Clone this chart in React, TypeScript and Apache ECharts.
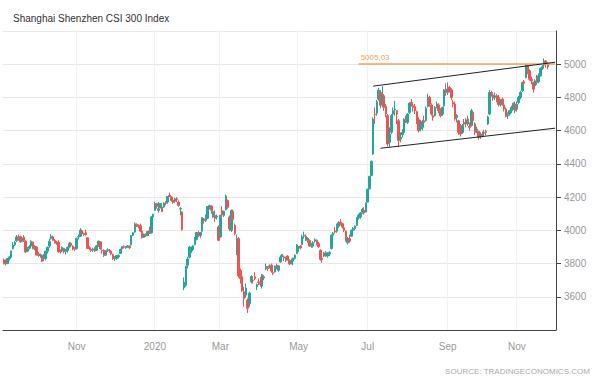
import React, { useEffect, useRef } from "react";
import * as echarts from "echarts";

// ---------- data ----------
const TITLE = "Shanghai Shenzhen CSI 300 Index";
const SOURCE = "SOURCE: TRADINGECONOMICS.COM";
const LAST_LABEL = "5005,03";
const LAST_VALUE = 5005.03;

const FIRST_DAY = "2019-08-29";
const LAST_AXIS_DAY = "2020-12-01";
const HOLIDAYS = [
  "2019-09-13", "2019-10-01", "2019-10-02", "2019-10-03", "2019-10-04", "2019-10-07",
  "2020-01-01", "2020-01-24", "2020-01-27", "2020-01-28", "2020-01-29", "2020-01-30", "2020-01-31",
  "2020-04-06", "2020-05-01", "2020-05-04", "2020-05-05", "2020-06-25", "2020-06-26",
  "2020-10-01", "2020-10-02", "2020-10-05", "2020-10-06", "2020-10-07", "2020-10-08",
];
const MONTHS = ["Jan", "Feb", "Mar", "Apr", "May", "Jun", "Jul", "Aug", "Sep", "Oct", "Nov", "Dec"];
const Y_MIN = 3400;
const Y_MAX = 5200;
const Y_STEP = 200;

// [open, close, low, high]
const aug2019 = [[3822, 3805, 3795, 3830], [3806, 3799, 3788, 3825]];
const sep2019 = [
  [3800, 3830, 3797, 3832], [3830, 3840, 3818, 3845], [3838, 3876, 3830, 3878], [3890, 3910, 3885, 3930],
  [3912, 3929, 3905, 3935], [3938, 3960, 3930, 3972], [3960, 3958, 3938, 3975], [3962, 3931, 3925, 3968],
  [3935, 3955, 3930, 3960], [3958, 3939, 3930, 3972], [3935, 3869, 3866, 3940], [3875, 3889, 3870, 3900],
  [3892, 3903, 3885, 3912], [3905, 3935, 3900, 3940], [3930, 3890, 3885, 3932], [3895, 3905, 3880, 3912],
  [3900, 3852, 3848, 3905], [3858, 3850, 3840, 3870], [3848, 3852, 3835, 3860], [3850, 3814, 3810, 3855],
];
const oct2019 = [
  [3830, 3837, 3815, 3857], [3830, 3874, 3820, 3876], [3875, 3898, 3860, 3902], [3905, 3935, 3895, 3950],
  [3950, 3964, 3945, 3978], [3960, 3939, 3935, 3968], [3940, 3927, 3920, 3948], [3930, 3923, 3912, 3935],
  [3928, 3870, 3866, 3940], [3872, 3871, 3860, 3885], [3875, 3898, 3870, 3902], [3892, 3870, 3862, 3895],
  [3872, 3880, 3855, 3888], [3878, 3898, 3865, 3902], [3900, 3920, 3895, 3930], [3922, 3910, 3900, 3928],
  [3905, 3887, 3880, 3910], [3890, 3886, 3875, 3900],
];
const nov2019 = [
  [3890, 3952, 3885, 3955], [3960, 3962, 3945, 3975], [3965, 4000, 3960, 4013], [3998, 3978, 3970, 4005],
  [3980, 3974, 3965, 3985], [3985, 3973, 3968, 4005], [3955, 3891, 3888, 3958], [3895, 3891, 3880, 3905],
  [3885, 3878, 3870, 3895], [3880, 3888, 3870, 3895], [3890, 3876, 3870, 3898], [3880, 3907, 3875, 3910],
  [3908, 3935, 3900, 3938], [3930, 3888, 3885, 3935], [3880, 3877, 3860, 3885], [3880, 3849, 3840, 3885],
  [3850, 3878, 3845, 3880], [3882, 3882, 3870, 3892], [3880, 3878, 3865, 3888], [3875, 3858, 3852, 3880],
  [3855, 3828, 3822, 3860],
];
const dec2019 = [
  [3830, 3836, 3815, 3845], [3830, 3848, 3822, 3850], [3840, 3849, 3830, 3855], [3860, 3885, 3858, 3890],
  [3888, 3902, 3880, 3905], [3902, 3898, 3890, 3910], [3895, 3900, 3888, 3905], [3902, 3906, 3895, 3912],
  [3905, 3895, 3888, 3910], [3912, 3968, 3910, 3972], [3970, 3986, 3965, 3990], [3990, 4039, 3985, 4048],
  [4035, 4027, 4020, 4042], [4025, 4025, 4012, 4035], [4028, 3995, 3990, 4040], [3995, 3956, 3950, 4000],
  [3958, 3977, 3955, 3980], [3975, 3968, 3960, 3982], [3968, 3993, 3965, 3995], [3998, 3982, 3978, 4022],
  [3985, 4081, 3980, 4085], [4080, 4097, 4075, 4100],
];
const jan2020 = [
  [4121, 4152, 4118, 4172], [4161, 4144, 4131, 4165], [4120, 4130, 4106, 4170], [4135, 4161, 4133, 4162],
  [4140, 4113, 4110, 4142], [4140, 4164, 4135, 4168], [4172, 4163, 4151, 4176], [4170, 4204, 4160, 4205],
  [4210, 4203, 4200, 4227], [4200, 4180, 4172, 4205], [4182, 4168, 4160, 4190], [4175, 4186, 4165, 4195],
  [4190, 4185, 4170, 4200], [4170, 4150, 4142, 4180], [4128, 4131, 4090, 4140], [4110, 4004, 3998, 4115],
];
const feb2020 = [
  [3653, 3688, 3640, 3716], [3669, 3784, 3660, 3786], [3790, 3828, 3770, 3840], [3838, 3899, 3830, 3905],
  [3880, 3899, 3865, 3902], [3885, 3907, 3875, 3910], [3915, 3952, 3910, 3960], [3945, 3987, 3940, 3990],
  [3985, 3967, 3958, 3998], [3970, 3987, 3955, 3990], [3995, 4077, 3990, 4078], [4070, 4058, 4040, 4075],
  [4060, 4070, 4050, 4095], [4072, 4143, 4068, 4145], [4140, 4149, 4125, 4155], [4145, 4121, 4100, 4150],
  [4080, 4112, 4075, 4118], [4090, 4073, 4050, 4120], [4080, 4085, 4065, 4095], [4020, 3940, 3935, 4030],
];
const mar2020 = [
  [3960, 4091, 3955, 4092], [4120, 4092, 4075, 4145], [4090, 4115, 4080, 4118], [4125, 4206, 4120, 4215],
  [4180, 4139, 4130, 4185], [4080, 4009, 3995, 4090], [4000, 4120, 3990, 4125], [4115, 4066, 4060, 4125],
  [4030, 3980, 3970, 4040], [3860, 3950, 3850, 3975], [3950, 3727, 3715, 3960], [3745, 3709, 3680, 3770],
  [3720, 3636, 3630, 3760], [3630, 3589, 3540, 3660], [3610, 3653, 3595, 3680], [3580, 3531, 3503, 3590],
  [3560, 3622, 3540, 3630], [3690, 3722, 3680, 3730], [3700, 3698, 3680, 3720], [3720, 3710, 3700, 3750],
  [3660, 3673, 3640, 3680], [3690, 3686, 3670, 3710],
];
const apr2020 = [
  [3680, 3675, 3660, 3720], [3665, 3734, 3650, 3736], [3720, 3713, 3700, 3730], [3770, 3783, 3760, 3800],
  [3775, 3769, 3755, 3785], [3780, 3786, 3770, 3795], [3790, 3756, 3745, 3800], [3745, 3741, 3730, 3755],
  [3750, 3785, 3745, 3788], [3790, 3773, 3765, 3800], [3760, 3786, 3750, 3790], [3810, 3839, 3805, 3850],
  [3840, 3854, 3830, 3858], [3840, 3834, 3815, 3848], [3820, 3839, 3810, 3842], [3845, 3823, 3818, 3850],
  [3820, 3797, 3790, 3825], [3805, 3816, 3795, 3830], [3815, 3833, 3790, 3835], [3830, 3850, 3825, 3855],
  [3860, 3912, 3858, 3918],
];
const may2020 = [
  [3893, 3899, 3870, 3905], [3905, 3894, 3885, 3912], [3915, 3962, 3910, 3975], [3965, 3970, 3950, 3992],
  [3965, 3948, 3935, 3975], [3940, 3952, 3925, 3958], [3940, 3905, 3900, 3945], [3910, 3915, 3895, 3925],
  [3905, 3925, 3895, 3935], [3935, 3944, 3925, 3952], [3940, 3915, 3910, 3945], [3920, 3902, 3895, 3930],
  [3880, 3825, 3818, 3885], [3830, 3825, 3805, 3835], [3845, 3864, 3840, 3870], [3865, 3851, 3840, 3875],
  [3845, 3862, 3835, 3868], [3858, 3867, 3845, 3875],
];
const jun2020 = [
  [3890, 3971, 3885, 3975], [3970, 3983, 3960, 3990], [3995, 3990, 3980, 4020], [3995, 4030, 3985, 4040],
  [4025, 4045, 4015, 4055], [4050, 4040, 4030, 4068], [4040, 4020, 4010, 4045], [4015, 4000, 3990, 4025],
  [3995, 3940, 3932, 4000], [3925, 3950, 3915, 3960], [3950, 3935, 3925, 3975], [3965, 4000, 3960, 4005],
  [4000, 4012, 3995, 4020], [4010, 4025, 4000, 4030], [4030, 4075, 4025, 4080], [4075, 4090, 4065, 4100],
  [4080, 4105, 4070, 4110], [4110, 4125, 4100, 4135], [4120, 4105, 4095, 4140], [4110, 4164, 4108, 4168],
];
const jul2020 = [
  [4170, 4248, 4168, 4250], [4250, 4325, 4245, 4328], [4330, 4416, 4325, 4420], [4460, 4670, 4455, 4680],
  [4700, 4698, 4640, 4740], [4705, 4774, 4690, 4785], [4790, 4844, 4780, 4858], [4830, 4753, 4735, 4845],
  [4760, 4815, 4740, 4868], [4810, 4740, 4720, 4820], [4745, 4700, 4680, 4760], [4690, 4520, 4505, 4700],
  [4530, 4580, 4500, 4620], [4590, 4690, 4580, 4700], [4700, 4720, 4680, 4740], [4725, 4730, 4690, 4780],
  [4720, 4700, 4640, 4725], [4660, 4540, 4500, 4670], [4550, 4560, 4530, 4590], [4575, 4590, 4560, 4610],
  [4590, 4670, 4585, 4675], [4670, 4660, 4645, 4690], [4650, 4700, 4640, 4705],
];
const aug2020 = [
  [4710, 4765, 4700, 4772], [4770, 4766, 4745, 4790], [4750, 4740, 4715, 4765], [4745, 4720, 4700, 4760],
  [4715, 4660, 4640, 4720], [4665, 4600, 4590, 4680], [4610, 4630, 4595, 4665], [4620, 4655, 4600, 4665],
  [4660, 4650, 4630, 4690], [4660, 4735, 4655, 4745], [4745, 4800, 4740, 4822], [4800, 4760, 4745, 4810],
  [4755, 4700, 4690, 4765], [4690, 4680, 4660, 4710], [4690, 4740, 4685, 4748], [4745, 4760, 4735, 4775],
  [4755, 4720, 4705, 4765], [4715, 4690, 4680, 4735], [4700, 4740, 4690, 4745], [4750, 4845, 4745, 4850],
  [4850, 4830, 4810, 4885],
];
const sep2020 = [
  [4830, 4862, 4815, 4890], [4860, 4842, 4830, 4870], [4845, 4800, 4785, 4855], [4770, 4760, 4740, 4785],
  [4760, 4670, 4660, 4775], [4680, 4692, 4650, 4700], [4660, 4590, 4575, 4665], [4610, 4580, 4565, 4640],
  [4590, 4630, 4580, 4640], [4650, 4640, 4630, 4670], [4640, 4665, 4620, 4675], [4670, 4640, 4630, 4690],
  [4625, 4620, 4600, 4650], [4630, 4720, 4625, 4730], [4710, 4660, 4650, 4715], [4640, 4590, 4575, 4650],
  [4600, 4610, 4585, 4625], [4595, 4560, 4545, 4600], [4565, 4575, 4550, 4590], [4580, 4570, 4560, 4595],
  [4585, 4590, 4570, 4605], [4595, 4590, 4570, 4605],
];
const oct2020 = [
  [4640, 4681, 4635, 4690], [4700, 4830, 4695, 4845], [4830, 4822, 4805, 4840], [4815, 4795, 4780, 4820],
  [4800, 4810, 4785, 4830], [4810, 4791, 4770, 4820], [4800, 4757, 4745, 4815], [4755, 4784, 4745, 4790],
  [4790, 4760, 4750, 4800], [4755, 4730, 4715, 4765], [4730, 4686, 4680, 4740], [4690, 4696, 4670, 4710],
  [4700, 4720, 4690, 4725], [4720, 4740, 4705, 4750], [4740, 4765, 4725, 4770], [4760, 4720, 4705, 4775],
];
const nov2020 = [
  [4730, 4760, 4715, 4775], [4770, 4800, 4760, 4810], [4800, 4830, 4790, 4840], [4840, 4890, 4835, 4895],
  [4895, 4885, 4870, 4905], [4920, 4995, 4915, 5000], [4990, 4960, 4940, 4998], [4960, 4910, 4900, 4970],
  [4910, 4900, 4880, 4925], [4890, 4850, 4830, 4895], [4870, 4900, 4860, 4910], [4905, 4890, 4875, 4935],
  [4895, 4930, 4885, 4945], [4930, 4975, 4925, 4980], [4975, 4985, 4965, 4995], [4995, 5020, 4985, 5035],
  [5020, 5005, 4980, 5025], [5005, 4985, 4970, 5012],
];

// trend channel endpoints: [categoryIndex, value]
const upperChannel = [[203, 4868], [303, 5012]];
const lowerChannel = [[207, 4494], [303, 4615]];
const lastLineStart = 195;
const lastLineEnd = 303;

function buildDates(): string[] {
  const out: string[] = [];
  const hol = new Set(HOLIDAYS);
  const d = new Date(FIRST_DAY + "T00:00:00Z");
  const end = new Date(LAST_AXIS_DAY + "T00:00:00Z");
  while (d <= end) {
    const wd = d.getUTCDay();
    const s = d.toISOString().slice(0, 10);
    if (wd !== 0 && wd !== 6 && !hol.has(s)) out.push(s);
    d.setUTCDate(d.getUTCDate() + 1);
  }
  return out;
}

export default function App() {
  const ref = useRef<HTMLDivElement>(null);
  useEffect(() => {
    if (!ref.current) return;
    document.body.style.margin = "0";
    const chart = echarts.init(ref.current, null, { renderer: "svg" });
    const dates = buildDates();
    const ohlc = [
      ...aug2019, ...sep2019, ...oct2019, ...nov2019, ...dec2019, ...jan2020, ...feb2020,
      ...mar2020, ...apr2020, ...may2020, ...jun2020, ...jul2020, ...aug2020, ...sep2020,
      ...oct2020, ...nov2020,
    ];
    const labelIdx = new Set<number>();
    for (let i = 1; i < dates.length; i++) {
      const m = Number(dates[i].slice(5, 7));
      const pm = Number(dates[i - 1].slice(5, 7));
      if (m !== pm && m % 2 === 1 && i > 10) labelIdx.add(i);
    }
    const showIdx = (i: number) => labelIdx.has(i);
    const font = "'Liberation Sans', Arial, sans-serif";
    const orange = "#f7a05a";

    chart.setOption({
      animation: false,
      backgroundColor: "#ffffff",
      title: {
        text: TITLE,
        left: 8,
        top: 8,
        textStyle: { fontSize: 10, fontWeight: "normal", color: "#333", fontFamily: font },
      },
      grid: { left: 3, right: 44, top: 31, bottom: 56 },
      xAxis: {
        type: "category",
        data: dates,
        boundaryGap: true,
        axisLine: { lineStyle: { color: "#444", width: 1 } },
        axisTick: { show: false },
        axisLabel: {
          interval: showIdx,
          color: "#999",
          fontSize: 10,
          fontFamily: font,
          margin: 11,
          formatter: (v: string) => {
            const m = Number(v.slice(5, 7));
            return m === 1 ? v.slice(0, 4) : MONTHS[m - 1];
          },
        },
        splitLine: { show: true, interval: showIdx, lineStyle: { color: "#eef3f3", width: 1 } },
      },
      yAxis: {
        type: "value",
        position: "right",
        min: Y_MIN,
        max: Y_MAX,
        interval: Y_STEP,
        axisLine: { show: true, lineStyle: { color: "#444", width: 1 } },
        axisTick: { show: true, length: 5, lineStyle: { color: "#444" } },
        axisLabel: {
          color: "#999",
          fontSize: 10,
          fontFamily: font,
          margin: 8,
          showMinLabel: false,
          showMaxLabel: false,
          formatter: (v: number) => String(v),
        },
        splitLine: { show: true, lineStyle: { color: "#e8e8e8", width: 1 } },
      },
      graphic: [
        {
          type: "text",
          right: 10,
          top: 367,
          style: { text: SOURCE, fill: "#aaa", fontSize: 8, fontFamily: font },
        },
      ],
      series: [
        {
          type: "candlestick",
          data: ohlc,
          barWidth: 2,
          itemStyle: {
            color: "#26a69a",
            color0: "#ef5350",
            borderColor: "#26a69a",
            borderColor0: "#ef5350",
            borderWidth: 1,
          },
          markLine: {
            silent: true,
            symbol: ["none", "none"],
            animation: false,
            data: [
              [
                {
                  coord: [lastLineStart, LAST_VALUE],
                  lineStyle: { color: orange, width: 1.5, type: "solid" },
                  label: {
                    show: true,
                    position: "insideStartTop",
                    formatter: LAST_LABEL,
                    color: orange,
                    fontSize: 8,
                    fontFamily: font,
                    distance: [2, 2],
                  },
                },
                { coord: [lastLineEnd, LAST_VALUE] },
              ],
              [
                { coord: upperChannel[0], lineStyle: { color: "#222", width: 1, type: "solid" }, label: { show: false } },
                { coord: upperChannel[1] },
              ],
              [
                { coord: lowerChannel[0], lineStyle: { color: "#222", width: 1, type: "solid" }, label: { show: false } },
                { coord: lowerChannel[1] },
              ],
            ],
          },
        },
      ],
    });
    return () => chart.dispose();
  }, []);
  return <div ref={ref} style={{ width: 600, height: 386 }} />;
}
